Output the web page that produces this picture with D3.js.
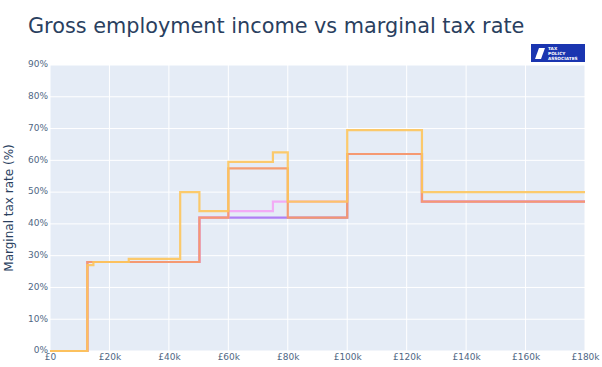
<!DOCTYPE html>
<html>
<head>
<meta charset="utf-8">
<script src="https://cdn.jsdelivr.net/npm/d3@7"></script>
<style>
  body { margin: 0; background: #fff; }
  text { font-family: "DejaVu Sans", sans-serif; }
</style>
</head>
<body>
<div class="chart"></div>
<script>
// income breakpoints (£) and marginal rates (%) for each scenario
const purpleIncome = [0, 12570, 50270, 100000, 125140, 180000];
const purpleRate   = [0, 28, 42, 62, 47];

const pinkIncome = [0, 12570, 50270, 60000, 75000, 100000, 125140, 180000];
const pinkRate   = [0, 28, 42, 44, 47, 62, 47];

const redIncome = [0, 12570, 50270, 60000, 80000, 100000, 125140, 180000];
const redRate   = [0, 28, 42, 57.5, 42, 62, 47];

const yellowIncome = [0, 12570, 14600, 26500, 43800, 50270, 60000, 75000, 80000, 100000, 125140, 180000];
const yellowRate   = [0, 27, 28, 29, 50, 44, 59.5, 62.5, 47, 69.5, 50];

const xTicks = [0, 20000, 40000, 60000, 80000, 100000, 120000, 140000, 160000, 180000];
const yTicks = [0, 10, 20, 30, 40, 50, 60, 70, 80, 90];

const series = [
  {income: purpleIncome, rate: purpleRate, color: "#a66cf5", op: 0.85},
  {income: pinkIncome, rate: pinkRate, color: "#f5a0f5", op: 0.85},
  {income: redIncome, rate: redRate, color: "#f5996a", op: 0.95},
  {income: yellowIncome, rate: yellowRate, color: "#fdc55c", op: 0.9}
];

const width = 602, height = 367;
const margin = {top: 65, right: 17, bottom: 16, left: 50};

const svg = d3.select(".chart")
  .append("svg")
  .attr("width", width)
  .attr("height", height);

const x = d3.scaleLinear()
  .domain([0, 180000])
  .range([margin.left, width - margin.right]);

const y = d3.scaleLinear()
  .domain([0, 90])
  .range([height - margin.bottom, margin.top]);

// plot background
svg.append("rect")
  .attr("x", margin.left)
  .attr("y", margin.top)
  .attr("width", width - margin.left - margin.right)
  .attr("height", height - margin.top - margin.bottom)
  .attr("fill", "#e5ecf6");

// grid lines
svg.append("g")
  .selectAll("line")
  .data(xTicks)
  .join("line")
  .attr("x1", d => x(d)).attr("x2", d => x(d))
  .attr("y1", margin.top).attr("y2", height - margin.bottom)
  .attr("stroke", "#fff")
  .attr("stroke-width", 1);

svg.append("g")
  .selectAll("line")
  .data(yTicks)
  .join("line")
  .attr("x1", margin.left).attr("x2", width - margin.right)
  .attr("y1", d => y(d)).attr("y2", d => y(d))
  .attr("stroke", "#fff")
  .attr("stroke-width", 1);

// axes
const xAxis = g => g
  .attr("transform", `translate(0,${height - margin.bottom})`)
  .call(d3.axisBottom(x).tickValues(xTicks).tickSize(0).tickPadding(3)
    .tickFormat(d => d === 0 ? "£0" : "£" + d / 1000 + "k"))
  .call(g => g.select(".domain").remove());

const yAxis = g => g
  .attr("transform", `translate(${margin.left},0)`)
  .call(d3.axisLeft(y).tickValues(yTicks).tickSize(0).tickPadding(2)
    .tickFormat(d => d + "%"))
  .call(g => g.select(".domain").remove());

svg.append("g").call(xAxis);
svg.append("g").call(yAxis)
  .call(g => g.selectAll(".tick text").attr("dy", "0.2em"));

svg.selectAll(".tick text")
  .attr("font-family", "'DejaVu Sans', sans-serif")
  .attr("font-size", 9)
  .attr("fill", "#506784");

// step lines
const line = d3.line()
  .x(d => x(d[0]))
  .y(d => y(d[1]))
  .curve(d3.curveStepAfter);

series.forEach(s => {
  const pts = s.rate.map((r, i) => [s.income[i], r]);
  pts.push([s.income[s.income.length - 1], s.rate[s.rate.length - 1]]);
  svg.append("path")
    .datum(pts)
    .attr("fill", "none")
    .attr("stroke", s.color)
    .attr("stroke-width", 2.2)
    .attr("stroke-opacity", s.op)
    .attr("d", line);
});

// title
svg.append("text")
  .attr("x", 28)
  .attr("y", 33)
  .attr("font-size", 20.8)
  .attr("fill", "#2a3f5f")
  .text("Gross employment income vs marginal tax rate");

// y axis title
svg.append("text")
  .attr("transform", `translate(13,${(margin.top + height - margin.bottom) / 2}) rotate(-90)`)
  .attr("text-anchor", "middle")
  .attr("font-size", 12)
  .attr("fill", "#2a3f5f")
  .text("Marginal tax rate (%)");

// logo
const logo = svg.append("g").attr("transform", "translate(531,44)");
logo.append("rect")
  .attr("width", 54).attr("height", 18)
  .attr("fill", "#1a35b0");
logo.append("path")
  .attr("d", "M4,15 L8,4 L14,4 L10,15 Z")
  .attr("fill", "#fff");
["TAX", "POLICY", "ASSOCIATES"].forEach((t, i) => {
  logo.append("text")
    .attr("x", 17)
    .attr("y", 6 + i * 5)
    .attr("font-size", 4.3)
    .attr("font-weight", "bold")
    .attr("fill", "#fff")
    .text(t);
});
</script>
</body>
</html>
